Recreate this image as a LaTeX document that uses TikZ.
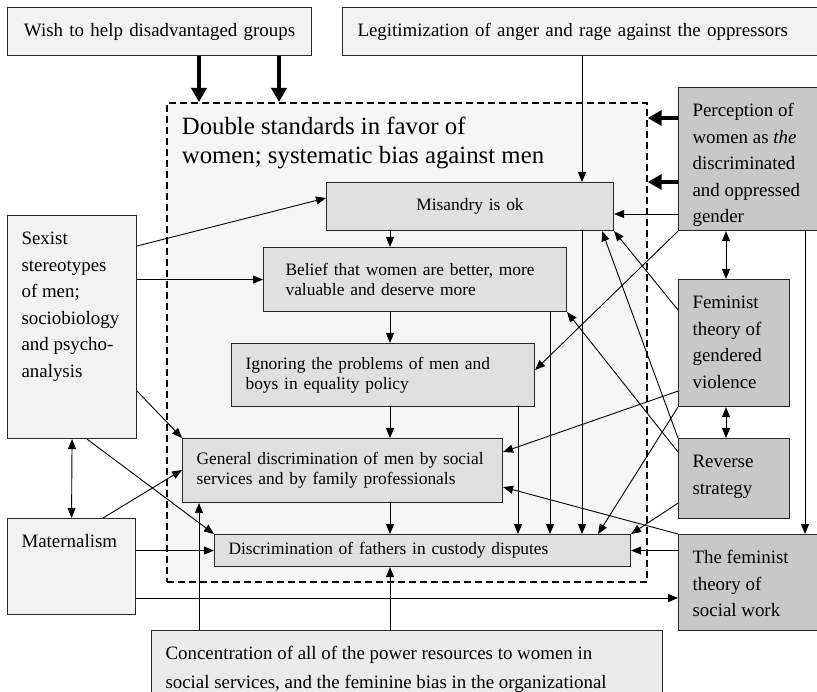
\documentclass[tikz,border=0pt]{standalone}
\usepackage{fontspec}
\setmainfont{Liberation Serif}
\usetikzlibrary{arrows.meta}

\definecolor{outerfill}{HTML}{F2F2F2}
\definecolor{lowfill}{HTML}{EBEBEB}
\definecolor{innerfill}{HTML}{E0E0E0}
\definecolor{sidefill}{HTML}{C8C8C8}
\definecolor{framefill}{HTML}{F6F6F6}

% texte calé en haut d'une boîte de hauteur fixe
\newcommand{\topbox}[3]{\vbox to #1pt{\hsize=#2pt\parindent=0pt\raggedright\rule{0pt}{14pt}#3\par\vss}}

\begin{document}
\begin{tikzpicture}[x=1pt, y=-1pt,
    base/.style={draw=black!85, line width=1.1pt, anchor=north west},
    outerbox/.style={base, fill=outerfill, font=\fontsize{18.9}{26.6}\selectfont, inner xsep=14pt, inner ysep=15pt},
    sidebox/.style={outerbox, fill=sidefill},
    innerbox/.style={base, fill=innerfill, font=\fontsize{17.4}{20}\selectfont, inner xsep=14pt, inner ysep=2pt, align=left},
    arr/.style={line width=0.9pt, -{Triangle[length=10pt,width=8pt]}},
    twoway/.style={line width=0.9pt, {Triangle[length=10pt,width=8pt]}-{Triangle[length=10pt,width=8pt]}},
    bigarr/.style={line width=4.5pt, -{Triangle[length=14pt,width=15pt]}}]

    \useasboundingbox (0,0) rectangle (817,692);
    \clip (0,0) rectangle (817,692);

    % Cadre en pointillés
    \node[base, draw=black, dash pattern=on 7pt off 4pt, line width=1.7pt, fill=framefill, inner xsep=15pt, inner ysep=14pt,
          font=\fontsize{24.8}{29}\selectfont] (frame) at (166,102)
        {\vbox to 451pt{\hsize=450pt\parindent=0pt\raggedright\rule{0pt}{17pt}Double standards in favor of\\ women; systematic bias against men\par\vss}};

    % Boîtes du haut
    \node[outerbox, minimum width=304, minimum height=48, text width=290, inner xsep=7pt, align=center] (wish) at (7,7) {Wish to help disadvantaged groups};
    \node[outerbox, minimum height=48, text width=450, inner xsep=15pt, align=left] (legit) at (342,7) {Legitimization of anger and rage against the oppressors};

    % Boîtes intérieures
    \node[innerbox, minimum height=48, text width=259, align=center] (misandry) at (326,182) {Misandry is ok};
    \node[innerbox, minimum height=64, text width=259, inner xsep=22pt] (belief) at (263,247) {Belief that women are better, more\\ valuable and deserve more};
    \node[innerbox, minimum height=63, text width=275] (ignoring) at (231,343) {Ignoring the problems of men and\\ boys in equality policy};
    \node[innerbox, minimum height=64, text width=292, inner xsep=14pt] (general) at (182,438) {General discrimination of men by social\\ services and by family professionals};
    \node[innerbox, minimum height=32, text width=388] (fathers) at (214,534) {Discrimination of fathers in custody disputes};

    % Boîtes de gauche et du bas
    \node[outerbox] (sexist) at (7,215) {\topbox{193}{101}{Sexist\\ stereotypes\\ of men;\\ sociobiology\\ and psycho-\\ analysis}};
    \node[outerbox] (maternal) at (7,518) {\topbox{66}{100}{Maternalism}};
    \node[outerbox, fill=lowfill, font=\fontsize{18.9}{28.5}\selectfont] (power) at (151,630)
        {\topbox{50}{483}{Concentration of all of the power resources to women in\\ social services, and the feminine bias in the organizational}};

    % Boîtes de droite
    \node[sidebox] (perception) at (678,87) {\topbox{113}{117}{Perception of\\ women as \textit{the}\\ discriminated\\ and oppressed\\ gender}};
    \node[sidebox] (gendered) at (678,279) {\topbox{97}{83}{Feminist\\ theory of\\ gendered\\ violence}};
    \node[sidebox] (reverse) at (678,438) {\topbox{50}{83}{Reverse\\ strategy}};
    \node[sidebox] (socialwork) at (678,534) {\topbox{66}{117}{The feminist\\ theory of\\ social work}};

    % Repères
    \coordinate (w1) at (199,0);
    \coordinate (w2) at (279,0);
    \coordinate (c1) at (390,0);
    \coordinate (c2) at (518,0);
    \coordinate (c3) at (550,0);
    \coordinate (c4) at (582,0);
    \coordinate (c5) at (726,0);
    \coordinate (c6) at (805,0);
    \coordinate (r1) at (0,118);
    \coordinate (r2) at (0,182);
    \coordinate (r3) at (0,214);
    \coordinate (r4) at (0,598);

    % Flèches épaisses
    \draw[bigarr] (w1 |- wish.south) -- (w1 |- frame.north);
    \draw[bigarr] (w2 |- wish.south) -- (w2 |- frame.north);
    \draw[bigarr] (r1 -| perception.west) -- (r1 -| frame.east);
    \draw[bigarr] (r2 -| perception.west) -- (r2 -| frame.east);

    % Colonnes verticales
    \draw[arr] (c4 |- legit.south) -- (c4 |- misandry.north);
    \draw[arr] (c1 |- misandry.south) -- (c1 |- belief.north);
    \draw[arr] (c1 |- belief.south) -- (c1 |- ignoring.north);
    \draw[arr] (c1 |- ignoring.south) -- (c1 |- general.north);
    \draw[arr] (c1 |- general.south) -- (c1 |- fathers.north);
    \draw[arr] (c2 |- ignoring.south) -- (c2 |- fathers.north);
    \draw[arr] (c3 |- belief.south) -- (c3 |- fathers.north);
    \draw[arr] (c4 |- misandry.south) -- (c4 |- fathers.north);
    \draw[arr] (w1 |- power.north) -- (w1 |- general.south);
    \draw[arr] (c1 |- power.north) -- (c1 |- fathers.south);

    % Depuis la gauche
    \draw[arr] ([yshift=-31]sexist.north east) -- ([yshift=-16]misandry.north west);
    \draw[arr] (belief.west -| sexist.east) -- (belief.west);
    \draw[arr] ([yshift=48]sexist.south east) -- (general.north west);
    \draw[arr] ([xshift=80]sexist.south west) -- (fathers.north west);
    \draw[twoway] (sexist.south) -- (maternal.north);
    \draw[arr] ([xshift=96]maternal.north west) -- ([yshift=-32]general.north west);
    \draw[arr] (fathers.west -| maternal.east) -- (fathers.west);
    \draw[arr] (r4 -| maternal.east) -- (r4 -| socialwork.west);

    % Depuis la droite
    \draw[arr] (r3 -| perception.west) -- (r3 -| misandry.east);
    \draw[arr] (perception.south west) -- ([yshift=-27]ignoring.north east);
    \draw[arr] ([yshift=-31]gendered.north west) -- (misandry.south east);
    \draw[arr] ([yshift=16]gendered.south west) -- ([yshift=-14]general.north east);
    \draw[arr] (gendered.south west) -- ([xshift=384]fathers.north west);
    \draw[arr] (reverse.north west) -- ([xshift=-12]misandry.south east);
    \draw[arr] ([yshift=-14]reverse.north west) -- (belief.south east);
    \draw[arr] ([yshift=16]reverse.south west) -- (fathers.north east);
    \draw[arr] (socialwork.north west) -- ([yshift=16]general.south east);
    \draw[arr] (fathers.east -| socialwork.west) -- (fathers.east);
    \draw[twoway] (c5 |- perception.south) -- (c5 |- gendered.north);
    \draw[twoway] (c5 |- gendered.south) -- (c5 |- reverse.north);
    \draw[arr] (c6 |- perception.south) -- (c6 |- socialwork.north);
\end{tikzpicture}
\end{document}
